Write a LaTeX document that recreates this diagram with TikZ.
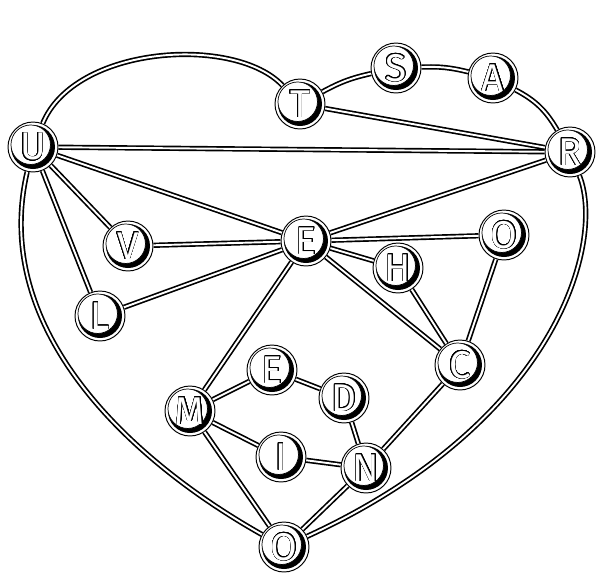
\documentclass[tikz,border=0pt]{standalone}
\usepackage{fontspec}
\usepackage{contour}
\usetikzlibrary{positioning, calc}
\newfontfamily\ltrfont{Fira Sans}
\contourlength{0.35pt}
\contournumber{24}
\newcommand{\ltr}[1]{\contour{black}{\textcolor{white}{#1}}}

\begin{document}
\begin{tikzpicture}[
  x=0.02cm, y=-0.02cm,
  link/.style={draw=black, line width=0.95pt, double=white, double distance=1.1pt},
  ltr/.style={circle, draw, line width=0.55pt, fill=white, minimum size=1cm, inner sep=0pt,
    font=\ltrfont\fontsize{22}{22}\selectfont,
    path picture={
      \fill[black] (path picture bounding box.center) circle (0.44cm);
      \filldraw[fill=white, draw=black, line width=0.4pt]
        ([shift={(-1.3pt,1.3pt)}]path picture bounding box.center) circle (0.395cm);
    }}
]
\useasboundingbox (0,0) rectangle (603,583);

% letters
\node[ltr] (t)  at (300,104) {\ltr{T}};
\node[ltr] (s)  at (396,68)  {\ltr{S}};
\node[ltr] (a)  at (493,78)  {\ltr{A}};
\node[ltr] (r)  at (570,152) {\ltr{R}};
\node[ltr] (u)  at (33,147)  {\ltr{U}};
\node[ltr] (v)  at (128,246) {\ltr{V}};
\node[ltr] (e)  at (306,241) {\ltr{E}};
\node[ltr] (o)  at (504,235) {\ltr{O}};
\node[ltr] (h)  at (398,268) {\ltr{H}};
\node[ltr] (l)  at (100,316) {\ltr{L}};
\node[ltr] (c)  at (460,365) {\ltr{C}};
\node[ltr] (em) at (272,370) {\ltr{E}};
\node[ltr] (d)  at (344,398) {\ltr{D}};
\node[ltr] (m)  at (190,411) {\ltr{M}};
\node[ltr] (i)  at (281,457) {\ltr{I}};
\node[ltr] (n)  at (366,468) {\ltr{N}};
\node[ltr] (ob) at (284,547) {\ltr{O}};

% heart
\draw[link] (u) .. controls (75,45) and (235,35) .. (t);
\draw[link] (t) to[bend left=8] (s);
\draw[link] (s) to[bend left=8] (a);
\draw[link] (a) to[bend left=16] (r);
\draw[link] (r) .. controls (605,240) and (560,420) .. (ob);
\draw[link] (ob) .. controls (130,460) and (-10,330) .. (u);

% inner links
\foreach \p/\q in {t/r, u/r, u/e, u/v, u/l, v/e, l/e, e/r, e/o, e/h, e/c, h/c, o/c,
                   e/m, m/em, em/d, d/n, m/i, i/n, m/ob, n/ob, c/n}
  \draw[link] (\p) -- (\q);
\end{tikzpicture}
\end{document}
